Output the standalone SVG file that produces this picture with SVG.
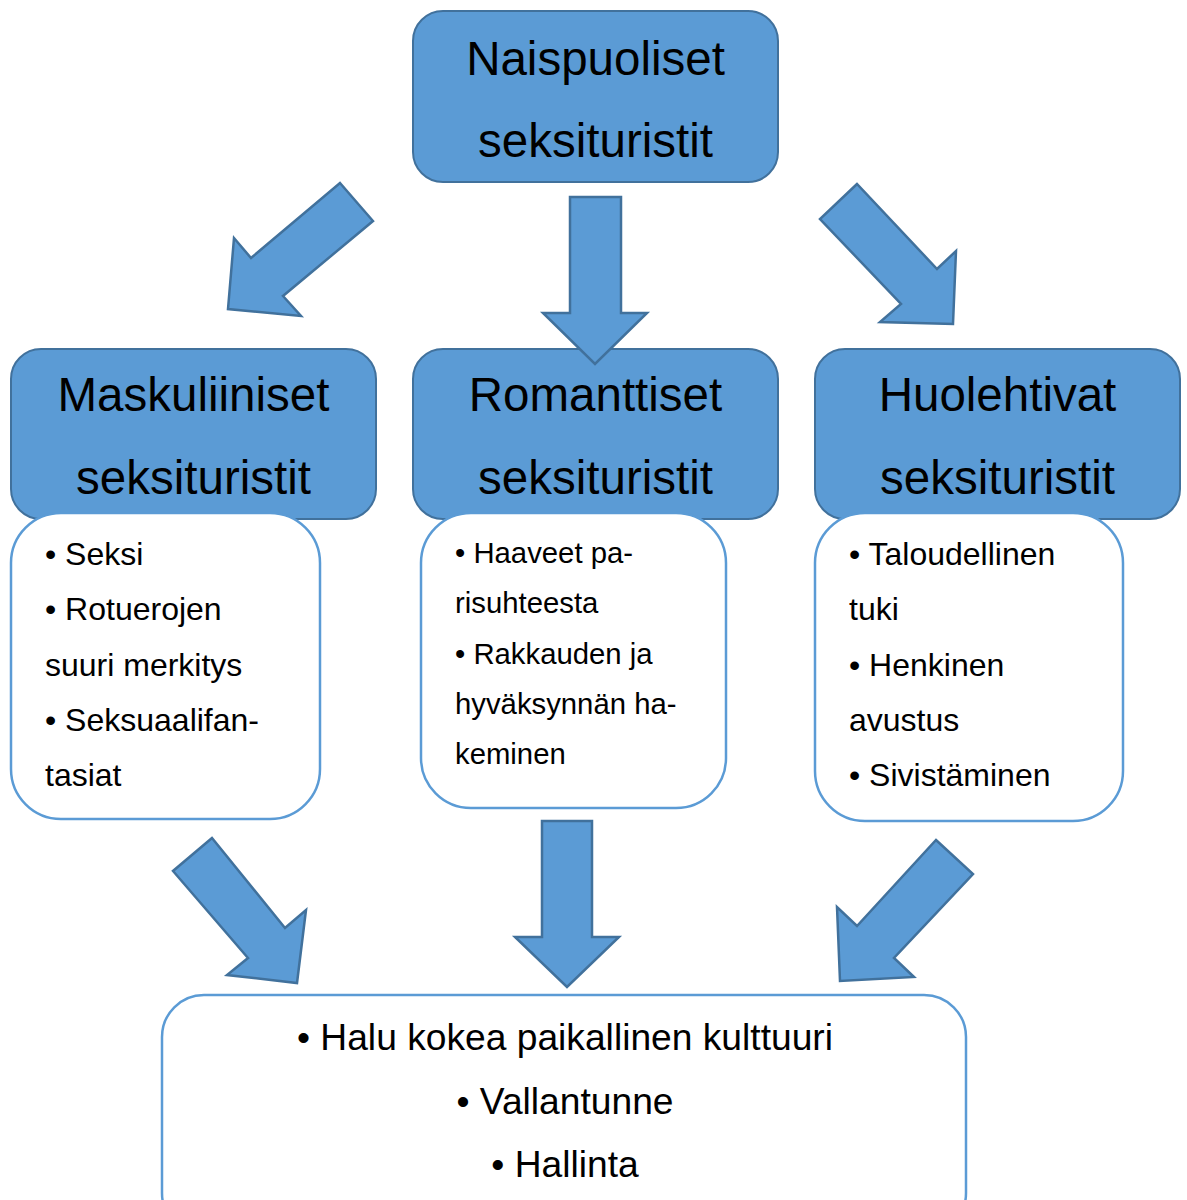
<svg xmlns="http://www.w3.org/2000/svg" width="1187" height="1200" viewBox="0 0 1187 1200">
<style>
.blue{fill:#5b9bd5;stroke:#41719c;stroke-width:2}
.white{fill:#ffffff;stroke:#5b9bd5;stroke-width:2.5}
.arrow{fill:#5b9bd5;stroke:#41719c;stroke-width:2.5;stroke-linejoin:miter}
text{font-family:"Liberation Sans",Arial,sans-serif;fill:#000}
.head{font-size:47.5px;text-anchor:middle}
.item{font-size:32px}
.itemm{font-size:29.3px}
.bottom{font-size:37.2px;text-anchor:middle}
</style>
<rect width="1187" height="1200" fill="#ffffff"/>
<g id="top">
<rect class="blue" x="413" y="11" width="365" height="171" rx="30"/>
<text class="head" x="595.5" y="75">Naispuoliset</text>
<text class="head" x="595.5" y="157">seksituristit</text>
</g>
<g id="maskuliiniset">
<rect class="blue" x="11" y="349" width="365" height="170" rx="30"/>
<text class="head" x="193.5" y="411">Maskuliiniset</text>
<text class="head" x="193.5" y="494">seksituristit</text>
</g>
<g id="romanttiset">
<rect class="blue" x="413" y="349" width="365" height="170" rx="30"/>
<text class="head" x="595.5" y="411">Romanttiset</text>
<text class="head" x="595.5" y="494">seksituristit</text>
</g>
<g id="huolehtivat">
<rect class="blue" x="815" y="349" width="365" height="170" rx="30"/>
<text class="head" x="997.5" y="411">Huolehtivat</text>
<text class="head" x="997.5" y="494">seksituristit</text>
</g>
<g id="maskuliiniset-list">
<rect class="white" x="11" y="513" width="309" height="306" rx="50"/>
<text class="item" x="45" y="565">• Seksi</text>
<text class="item" x="45" y="620">• Rotuerojen</text>
<text class="item" x="45" y="676">suuri merkitys</text>
<text class="item" x="45" y="731">• Seksuaalifan-</text>
<text class="item" x="45" y="786">tasiat</text>
</g>
<g id="romanttiset-list">
<rect class="white" x="421" y="513" width="305" height="295" rx="50"/>
<text class="itemm" x="455" y="562.5">• Haaveet pa-</text>
<text class="itemm" x="455" y="613">risuhteesta</text>
<text class="itemm" x="455" y="663.5">• Rakkauden ja</text>
<text class="itemm" x="455" y="714">hyväksynnän ha-</text>
<text class="itemm" x="455" y="764">keminen</text>
</g>
<g id="huolehtivat-list">
<rect class="white" x="815" y="513" width="308" height="308" rx="50"/>
<text class="item" x="849" y="565">• Taloudellinen</text>
<text class="item" x="849" y="620">tuki</text>
<text class="item" x="849" y="675.5">• Henkinen</text>
<text class="item" x="849" y="730.5">avustus</text>
<text class="item" x="849" y="785.5">• Sivistäminen</text>
</g>
<g id="result">
<rect class="white" x="162" y="995" width="804" height="240" rx="42"/>
<text class="bottom" x="565" y="1050">• Halu kokea paikallinen kulttuuri</text>
<text class="bottom" x="565" y="1113.5">• Vallantunne</text>
<text class="bottom" x="565" y="1177">• Hallinta</text>
</g>
<g id="connectors">
<polygon class="arrow" points="340,183 373,221 283,296 301,316 228,309 234,238 251,258"/>
<polygon class="arrow" points="570,197 621,197 621,313 647,313 595,364 543,313 570,313"/>
<polygon class="arrow" points="857,184 820,219 901,304 880,322 953,324 956,251 937,269"/>
<polygon class="arrow" points="212,838 173,871 248,958 227,975 297,983 306,910 285,928"/>
<polygon class="arrow" points="542,821 592,821 592,937 619,937 567,987 515,937 542,937"/>
<polygon class="arrow" points="936,840 973,874 894,958 914,977 840,981 837,907 857,926"/>
</g>
</svg>
